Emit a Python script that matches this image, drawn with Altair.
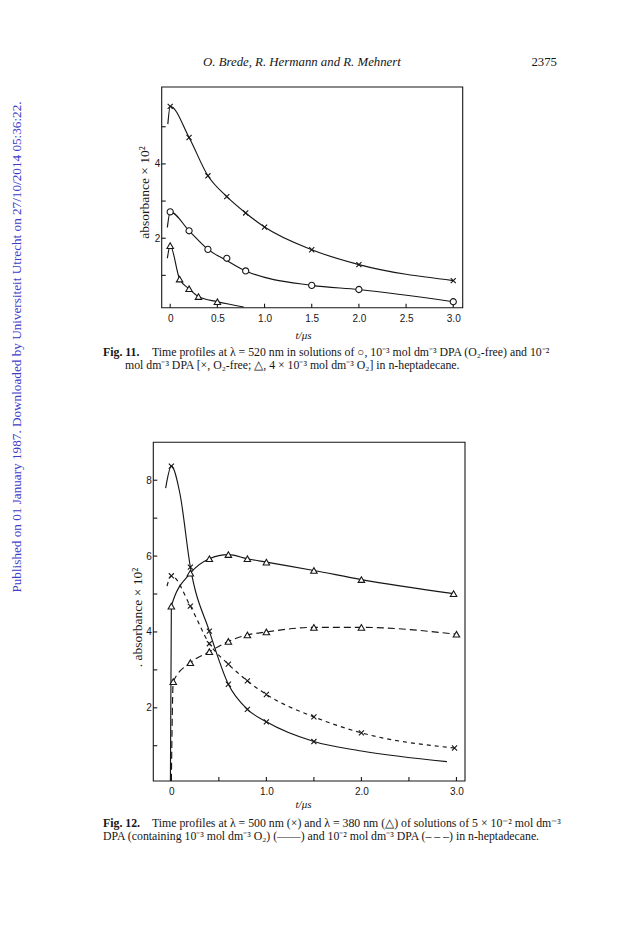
import altair as alt
import pandas as pd

W, H = 608, 919

# ---------------- Fig. 11 (520 nm) ----------------
F11_X_T = [0.0, 0.2, 0.4, 0.6, 0.8, 1.0, 1.5, 2.0, 3.0]
F11_X_A = [5.55, 4.71, 3.68, 3.12, 2.68, 2.30, 1.69, 1.29, 0.86]
F11_X_LINE_T = [-0.025, 0.0, 0.2, 0.4, 0.6, 0.8, 1.0, 1.5, 2.0, 3.0]
F11_X_LINE_A = [5.07, 5.55, 4.71, 3.68, 3.12, 2.68, 2.30, 1.69, 1.29, 0.86]

F11_O_T = [0.0, 0.2, 0.4, 0.6, 0.8, 1.5, 2.0, 3.0]
F11_O_A = [2.71, 2.20, 1.70, 1.46, 1.12, 0.73, 0.62, 0.29]
F11_O_LINE_T = [-0.03, 0.0, 0.2, 0.4, 0.6, 0.8, 1.5, 2.0, 3.0]
F11_O_LINE_A = [2.29, 2.71, 2.20, 1.70, 1.40, 1.12, 0.73, 0.62, 0.29]

F11_T_T = [0.0, 0.1, 0.2, 0.3, 0.5]
F11_T_A = [1.80, 0.90, 0.64, 0.43, 0.29]
F11_T_LINE_T = [-0.03, 0.0, 0.1, 0.2, 0.3, 0.5, 0.78]
F11_T_LINE_A = [1.46, 1.80, 0.90, 0.64, 0.43, 0.29, 0.15]

F11_XTICKS = [0.0, 0.5, 1.0, 1.5, 2.0, 2.5, 3.0]
F11_YTICKS = [1, 2, 3, 4, 5]
F11_YLABELS = [2, 4]

# ---------------- Fig. 12 (500 nm x, 380 nm triangles) ----------------
F12_XS_T = [0.0, 0.2, 0.4, 0.6, 0.8, 1.0, 1.5]
F12_XS_A = [8.37, 5.71, 4.02, 2.62, 1.96, 1.63, 1.11]
F12_XS_LINE_T = [-0.06, 0.0, 0.09, 0.2, 0.4, 0.6, 0.8, 1.0, 1.5, 2.0, 2.9]
F12_XS_LINE_A = [7.79, 8.37, 7.65, 5.71, 4.02, 2.62, 1.96, 1.63, 1.11, 0.86, 0.58]

F12_XD_T = [0.0, 0.2, 0.4, 0.6, 0.8, 1.0, 1.5, 2.0, 2.98]
F12_XD_A = [5.48, 4.68, 3.69, 3.15, 2.71, 2.35, 1.76, 1.34, 0.94]
F12_XD_LINE_T = [-0.046, 0.0, 0.2, 0.4, 0.6, 0.8, 1.0, 1.5, 2.0, 2.98]
F12_XD_LINE_A = [5.21, 5.48, 4.68, 3.69, 3.15, 2.71, 2.35, 1.76, 1.34, 0.94]

F12_TS_T = [0.0, 0.2, 0.4, 0.6, 0.8, 1.0, 1.5, 2.0, 2.97]
F12_TS_A = [4.68, 5.55, 5.93, 6.04, 5.93, 5.84, 5.62, 5.38, 5.01]
F12_TS_LINE_T = [-0.01, 0.0, 0.2, 0.4, 0.6, 0.8, 1.0, 1.5, 2.0, 2.97]
F12_TS_LINE_A = [0.07, 4.68, 5.55, 5.93, 6.04, 5.93, 5.84, 5.62, 5.38, 5.01]

F12_TD_T = [0.02, 0.2, 0.4, 0.6, 0.8, 1.0, 1.5, 2.0, 3.0]
F12_TD_A = [2.69, 3.19, 3.48, 3.75, 3.92, 4.00, 4.12, 4.12, 3.94]
F12_TD_LINE_T = [0.0, 0.02, 0.2, 0.4, 0.6, 0.8, 1.0, 1.5, 2.0, 3.0]
F12_TD_LINE_A = [0.07, 2.69, 3.19, 3.48, 3.75, 3.92, 4.00, 4.12, 4.12, 3.94]

F12_XTICKS = [0.0, 0.5, 1.0, 1.5, 2.0, 2.5, 3.0]
F12_XLABELS = [0.0, 1.0, 2.0, 3.0]
F12_YTICKS = [1, 2, 3, 4, 5, 6, 7, 8]
F12_YLABELS = [2, 4, 6, 8]

# ---------------- page texts ----------------
HEADER = "O. Brede, R. Hermann and R. Mehnert"
PAGE_NO = "2375"
WATERMARK = "Published on 01 January 1987. Downloaded by Universiteit Utrecht on 27/10/2014 05:36:22."
CAP11_BOLD = "Fig. 11."
CAP11_L1 = "Time profiles at \u03bb = 520 nm in solutions of \u25cb, 10\u207b\u00b3 mol dm\u207b\u00b3 DPA (O\u2082-free) and 10\u207b\u00b2"
CAP11_L2 = "mol dm\u207b\u00b3 DPA [\u00d7, O\u2082-free; \u25b3, 4 \u00d7 10\u207b\u00b3 mol dm\u207b\u00b3 O\u2082] in n-heptadecane."
CAP12_BOLD = "Fig. 12."
CAP12_L1 = "Time profiles at \u03bb = 500 nm (\u00d7) and \u03bb = 380 nm (\u25b3) of solutions of 5 \u00d7 10\u207b\u00b2 mol dm\u207b\u00b3"
CAP12_L2 = "DPA (containing 10\u207b\u00b3 mol dm\u207b\u00b3 O\u2082) (\u2014\u2014) and 10\u207b\u00b2 mol dm\u207b\u00b3 DPA (\u2013 \u2013 \u2013) in n-heptadecane."
Y_TITLE_11 = "absorbance \u00d7 10\u00b2"
Y_TITLE_12 = ". absorbance \u00d7 10\u00b2"
X_TITLE = "t/\u03bcs"

INK = "#161616"
SERIF = "Liberation Serif"
SANS = "Liberation Sans"
XSHAPE = "M-1,-1L1,1M1,-1L-1,1"
CAP_SIZE = 11.8


def df(t, a):
    return pd.DataFrame({"t": t, "a": a})


def make_fig(xdom, ydom, xrng, yrng, xaxis, yaxis, lines, points, xticks, yticks):
    xs = alt.Scale(domain=xdom, range=xrng, nice=False, zero=False)
    ys = alt.Scale(domain=ydom, range=yrng, nice=False, zero=False)
    one = alt.Data(values=[{"k": 0}])
    frame = alt.Chart(one).mark_rect(filled=False, stroke=INK, strokeWidth=1.1).encode(
        x=alt.datum(xdom[0]), x2=alt.datum(xdom[1]),
        y=alt.datum(ydom[0]), y2=alt.datum(ydom[1]),
    )
    yt = alt.Chart(pd.DataFrame({"v": yticks})).mark_rule(
        color=INK, strokeWidth=1.1, x2Offset=4
    ).encode(y=alt.Y("v:Q"), x=alt.datum(xdom[0]), x2=alt.datum(xdom[0]))
    xt = alt.Chart(pd.DataFrame({"v": xticks})).mark_rule(
        color=INK, strokeWidth=1.1, y2Offset=-4
    ).encode(x=alt.X("v:Q"), y=alt.datum(ydom[0]), y2=alt.datum(ydom[0]))
    layers = []
    for t, a, dash in lines:
        kw = dict(interpolate="monotone", color=INK, strokeWidth=1.15)
        if dash:
            kw["strokeDash"] = dash
        layers.append(alt.Chart(df(t, a)).mark_line(**kw).encode(
            x=alt.X("t:Q", scale=xs, axis=xaxis),
            y=alt.Y("a:Q", scale=ys, axis=yaxis),
        ))
    for t, a, shape, size in points:
        if shape == XSHAPE:
            m = alt.Chart(df(t, a)).mark_point(shape=shape, size=size, filled=False,
                                               stroke=INK, strokeWidth=1.1, opacity=1)
        else:
            m = alt.Chart(df(t, a)).mark_point(shape=shape, size=size, filled=True,
                                               fill="white", stroke=INK, strokeWidth=1.1,
                                               opacity=1, fillOpacity=1)
        layers.append(m.encode(x=alt.X("t:Q", scale=xs, axis=xaxis),
                               y=alt.Y("a:Q", scale=ys, axis=yaxis)))
    return alt.layer(frame, yt, xt, *layers)


LABEL_EXPR = "datum.value == 0 ? '0' : format(datum.value, '.1f')"

# ---- Fig 11 ----
f11_xaxis = alt.Axis(orient="bottom", offset=299.7 - H, values=F11_XTICKS, labelExpr=LABEL_EXPR,
                     ticks=False, tickSize=0, domain=False, grid=False,
                     labelFont=SANS, labelFontSize=10, labelColor=INK, labelPadding=6,
                     title=X_TITLE, titleFont=SERIF, titleFontStyle="italic",
                     titleFontWeight="normal", titleFontSize=11, titleColor=INK,
                     titleX=295, titleY=28, titleBaseline="middle", titleAlign="center")
f11_yaxis = alt.Axis(orient="left", offset=-153.7, values=F11_YLABELS, format="d",
                     ticks=False, tickSize=0, domain=False, grid=False,
                     labelFont=SANS, labelFontSize=10, labelColor=INK, labelPadding=2,
                     title=Y_TITLE_11, titleFont=SERIF, titleFontWeight="normal",
                     titleFontSize=13.5, titleColor=INK, titleAngle=270,
                     titleX=-17, titleY=184, titleBaseline="middle", titleAlign="center")
fig11 = make_fig(
    [-0.09, 3.1], [0.13, 6.07], [153.7, 454.7], [299.7, 79.0], f11_xaxis, f11_yaxis,
    lines=[(F11_X_LINE_T, F11_X_LINE_A, None),
           (F11_O_LINE_T, F11_O_LINE_A, None),
           (F11_T_LINE_T, F11_T_LINE_A, None)],
    points=[(F11_X_T, F11_X_A, XSHAPE, 26),
            (F11_O_T, F11_O_A, "circle", 38),
            (F11_T_T, F11_T_A, "triangle-up", 42)],
    xticks=F11_XTICKS, yticks=F11_YTICKS,
)

# ---- Fig 12 ----
f12_xaxis = alt.Axis(orient="bottom", offset=773.0 - H, values=F12_XLABELS, labelExpr=LABEL_EXPR,
                     ticks=False, tickSize=0, domain=False, grid=False,
                     labelFont=SANS, labelFontSize=10, labelColor=INK, labelPadding=5,
                     title=X_TITLE, titleFont=SERIF, titleFontStyle="italic",
                     titleFontWeight="normal", titleFontSize=11, titleColor=INK,
                     titleX=295, titleY=23, titleBaseline="middle", titleAlign="center")
f12_yaxis = alt.Axis(orient="left", offset=-145.3, values=F12_YLABELS, format="d",
                     ticks=False, tickSize=0, domain=False, grid=False,
                     labelFont=SANS, labelFontSize=10, labelColor=INK, labelPadding=2,
                     title=Y_TITLE_12, titleFont=SERIF, titleFontWeight="normal",
                     titleFontSize=13.5, titleColor=INK, titleAngle=270,
                     titleX=-16, titleY=609, titleBaseline="middle", titleAlign="center")
fig12 = make_fig(
    [-0.19, 3.09], [0.07, 9.0], [145.3, 457.0], [773.0, 434.3], f12_xaxis, f12_yaxis,
    lines=[(F12_XS_LINE_T, F12_XS_LINE_A, None),
           (F12_XD_LINE_T, F12_XD_LINE_A, [4, 4]),
           (F12_TS_LINE_T, F12_TS_LINE_A, None),
           (F12_TD_LINE_T, F12_TD_LINE_A, [7, 4])],
    points=[(F12_XS_T, F12_XS_A, XSHAPE, 26),
            (F12_XD_T, F12_XD_A, XSHAPE, 26),
            (F12_TS_T, F12_TS_A, "triangle-up", 42),
            (F12_TD_T, F12_TD_A, "triangle-up", 42)],
    xticks=F12_XTICKS, yticks=F12_YTICKS,
)


def txt(s, x, y, size=CAP_SIZE, align="left", weight="normal", style="normal",
        color=INK, angle=0, font=SERIF):
    return alt.Chart(alt.Data(values=[{"k": 0}])).mark_text(
        align=align, baseline="middle", font=font, fontSize=size, fontWeight=weight,
        fontStyle=style, color=color, angle=angle,
    ).encode(x=alt.value(x), y=alt.value(y), text=alt.value(s))


texts = [
    txt(HEADER, 195, 54, size=12.8, style="italic"),
    txt(PAGE_NO, 549, 54, size=12.8, align="right"),
    txt(WATERMARK, 8.5, 339, size=13.2, align="center", color="#3c3cc8", angle=270),
    txt(CAP11_BOLD, 95, 344, weight="bold"),
    txt(CAP11_L1, 144, 344),
    txt(CAP11_L2, 117, 357),
    txt(CAP12_BOLD, 95, 815, weight="bold"),
    txt(CAP12_L1, 144, 815),
    txt(CAP12_L2, 95, 828),
]

chart = alt.layer(fig11, fig12, *texts).resolve_scale(
    x="independent", y="independent"
).properties(
    width=W, height=H, autosize=alt.AutoSizeParams(type="none"), padding=0,
    background="white",
).configure_view(stroke=None)

chart.save("out.html", embed_options={"renderer": "svg", "actions": False})
